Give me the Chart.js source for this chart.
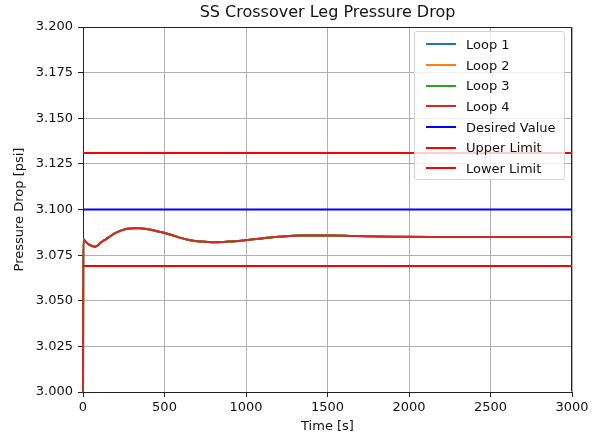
<!DOCTYPE html>
<html>
<head>
<meta charset="utf-8">
<script src="https://cdn.jsdelivr.net/npm/chart.js@4/dist/chart.umd.min.js"></script>
<style>
    body { margin: 0; background: #fff; }
    #wrap { position: relative; width: 601px; height: 440px; }
    #legenda {
        position: absolute; left: 414px; top: 31px; width: 151px; height: 149px;
        box-sizing: border-box; border: 1px solid #d3d3d3; border-radius: 3px;
        background: rgba(255, 255, 255, 0.8); padding-top: 2px;
        font-family: 'DejaVu Sans', sans-serif; font-size: 13px; color: #111;
    }
    .item { height: 20.7px; display: flex; align-items: center; white-space: nowrap; }
    .traco { margin-left: 11px; margin-right: 10px; width: 30px; height: 2px; }
</style>
</head>
<body>
<div id="wrap">
    <canvas id="mychart"></canvas>
    <div id="legenda"></div>
</div>
<script>
    // time axis of the loop curves [s]
    const time_s = [0, 2, 15, 33, 55, 74, 90, 104, 120, 135, 165, 196, 228, 258, 290, 319, 350, 380, 410, 442,
        480, 523, 565, 605, 645, 687, 728, 769, 810, 851, 892, 933, 982, 1030, 1080, 1130, 1180, 1250, 1331,
        1430, 1534, 1640, 1742, 1900, 2147, 2400, 2700, 3000]

    // all four loops sit on top of each other in the plot
    const loop_psi = [3.000, 3.0837, 3.0825, 3.0810, 3.0800, 3.0796, 3.0803, 3.0815, 3.0826, 3.0834, 3.0852,
        3.0870, 3.0883, 3.0892, 3.0896, 3.0897, 3.0897, 3.0894, 3.0890, 3.0884, 3.0876, 3.0866, 3.0854, 3.0843,
        3.0834, 3.0827, 3.0824, 3.0822, 3.0821, 3.0822, 3.0824, 3.0826, 3.0830, 3.0835, 3.0840, 3.0845, 3.0849,
        3.0854, 3.0857, 3.0858, 3.0857, 3.0855, 3.0853, 3.0851, 3.0849, 3.0849, 3.0849, 3.0849]

    const limit_time = [0, 3000]
    const desired_psi = [3.100, 3.100]
    const upper_psi = [3.131, 3.131]
    const lower_psi = [3.069, 3.069]

    const loop_labels = ['Loop 1', 'Loop 2', 'Loop 3', 'Loop 4']
    const loop_colors = ['#1f77b4', '#ff7f0e', '#2ca02c', '#d62728']

    const x_ticks = [0, 500, 1000, 1500, 2000, 2500, 3000]
    const y_ticks = [3.000, 3.025, 3.050, 3.075, 3.100, 3.125, 3.150, 3.175, 3.200]

    const pontos = (xs, ys) => xs.map((x, i) => ({ x: x, y: ys[i] }))

    const fonte = "'DejaVu Sans', sans-serif"
    Chart.defaults.font.family = fonte
    Chart.defaults.color = '#111'

    const datasets = loop_labels.map((label, i) => ({
        label: label,
        data: pontos(time_s, loop_psi),
        borderColor: loop_colors[i],
        backgroundColor: loop_colors[i],
        borderWidth: 2,
        pointRadius: 0,
        cubicInterpolationMode: 'monotone',
        clip: 2,
        order: 7 - i
    }))
    datasets.push(
        { label: 'Desired Value', data: pontos(limit_time, desired_psi), borderColor: 'blue', backgroundColor: 'blue', borderWidth: 2, pointRadius: 0, order: 3 },
        { label: 'Upper Limit', data: pontos(limit_time, upper_psi), borderColor: 'red', backgroundColor: 'red', borderWidth: 2, pointRadius: 0, order: 2 },
        { label: 'Lower Limit', data: pontos(limit_time, lower_psi), borderColor: 'red', backgroundColor: 'red', borderWidth: 2, pointRadius: 0, order: 1 }
    )

    // top and right spines, like the matplotlib frame
    const moldura = {
        id: 'moldura',
        beforeDatasetsDraw(chart) {
            const { ctx, chartArea: a } = chart
            const l = Math.round(a.left) + 0.5, r = Math.round(a.right) - 0.5
            const t = Math.round(a.top) + 0.5, b = Math.round(a.bottom) - 0.5
            ctx.save()
            ctx.strokeStyle = '#222'
            ctx.lineWidth = 1
            ctx.beginPath()
            ctx.moveTo(l, t); ctx.lineTo(r, t); ctx.lineTo(r, b)
            ctx.stroke()
            ctx.restore()
        }
    }

    const config = {
        type: 'line',
        data: { datasets: datasets },
        options: {
            responsive: true,
            maintainAspectRatio: false,
            animation: false,
            layout: { padding: { left: 0, right: 29, top: 0, bottom: 0 } },
            plugins: {
                legend: { display: false },
                tooltip: { enabled: false },
                title: {
                    display: true,
                    text: 'SS Crossover Leg Pressure Drop',
                    fullSize: false,
                    font: { size: 16, weight: 'normal' },
                    padding: { top: 3, bottom: 4.8 }
                }
            },
            scales: {
                x: {
                    type: 'linear',
                    min: 0,
                    max: 3000,
                    afterBuildTicks: (s) => { s.ticks = x_ticks.map(v => ({ value: v })) },
                    ticks: { font: { size: 13 }, padding: 3, maxRotation: 0, callback: (v) => String(v) },
                    grid: { color: '#b0b0b0', tickColor: '#222', tickLength: 5 },
                    border: { color: '#222' },
                    title: { display: true, text: 'Time [s]', font: { size: 13 }, padding: { top: 0, bottom: 6 } },
                    afterFit: (s) => { s.height = 48; s.paddingLeft = 0; s.paddingRight = 0 }
                },
                y: {
                    min: 3.0,
                    max: 3.2,
                    afterBuildTicks: (s) => { s.ticks = y_ticks.map(v => ({ value: v })) },
                    ticks: { font: { size: 13 }, padding: 5, callback: (v) => v.toFixed(3) },
                    grid: { color: '#b0b0b0', tickColor: '#222', tickLength: 5 },
                    border: { color: '#222' },
                    title: { display: true, text: 'Pressure Drop [psi]', font: { size: 13 }, padding: { top: 12, bottom: 0 } },
                    afterFit: (s) => { s.width = 83; s.paddingTop = 0; s.paddingBottom = 0 }
                }
            }
        },
        plugins: [moldura]
    }

    const grafico = new Chart(document.querySelector('#mychart'), config)

    // legend box drawn as html over the plot area
    const legenda = document.querySelector('#legenda')
    grafico.data.datasets.forEach(ds => {
        const item = document.createElement('div')
        item.className = 'item'
        const traco = document.createElement('span')
        traco.className = 'traco'
        traco.style.background = ds.borderColor
        const texto = document.createElement('span')
        texto.textContent = ds.label
        item.appendChild(traco)
        item.appendChild(texto)
        legenda.appendChild(item)
    })
</script>
</body>
</html>
